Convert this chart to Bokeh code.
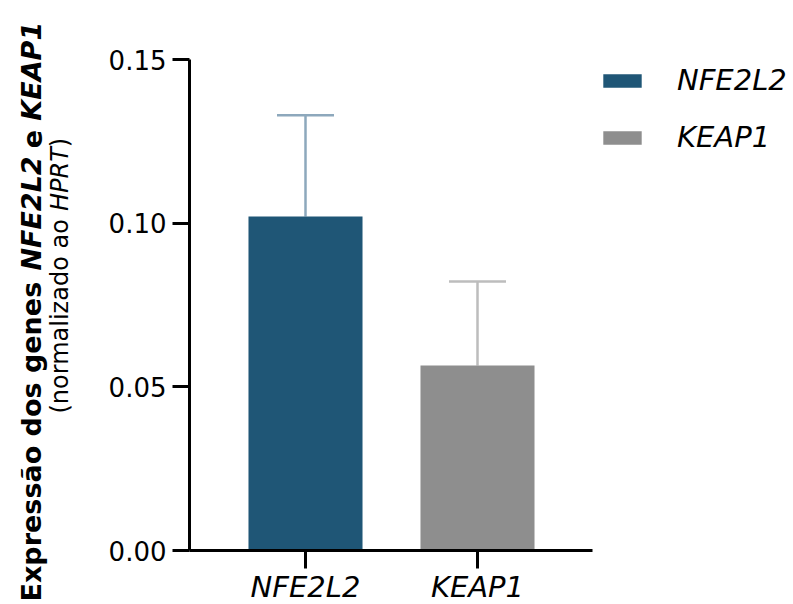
from math import pi
from bokeh.plotting import figure
from bokeh.models import (ColumnDataSource, Range1d, FixedTicker, NumeralTickFormatter,
                          Whisker, TeeHead, Legend, LegendItem, Label)
from bokeh.embed import file_html
from bokeh.resources import INLINE

# ---- data ----
genes = ["NFE2L2", "KEAP1"]
means = [0.102, 0.0565]
upper = [0.133, 0.0822]
bar_colors = ["#1f5676", "#8e8e8e"]
err_colors = ["#8da8bc", "#bdbdbd"]
y_ticks = [0.0, 0.05, 0.10, 0.15]

FONT = "DejaVu Sans"
W, H = 793, 604
# layout (canvas px): plot area edges and category spacing
FL, FR, FT, FB = 189, 592, 59, 550
C1, STEP = 305, 172
Y0, Y1 = 0.0, 0.15

xpos = [i + 1 for i in range(len(genes))]
# ranges chosen so that the frame covers the whole canvas
x_start = 1 - C1 / STEP
x_end = x_start + W / STEP
ppu = (FB - FT) / (Y1 - Y0)
y_start = Y0 - (H - FB) / ppu
y_end = Y1 + FT / ppu
x_at = lambda px: x_start + px / STEP

p = figure(width=W, height=H, x_range=Range1d(x_start, x_end), y_range=Range1d(y_start, y_end),
           output_backend="svg", toolbar_location=None,
           min_border=0, min_border_left=0, min_border_right=0,
           min_border_top=0, min_border_bottom=0)
p.title.visible = False
p.outline_line_color = None
p.xgrid.visible = False
p.ygrid.visible = False
p.background_fill_color = "white"
p.border_fill_color = "white"

renderers = []
for x, g, m, u, bc, ec in zip(xpos, genes, means, upper, bar_colors, err_colors):
    src = ColumnDataSource(dict(x=[x], mean=[m], upper=[u]))
    r = p.vbar(x="x", top="mean", bottom=0, width=0.663, source=src,
               fill_color=bc, line_color=None)
    renderers.append(r)
    wk = Whisker(base="x", lower="mean", upper="upper", source=src,
                 line_color=ec, line_width=2.5, lower_head=None,
                 upper_head=TeeHead(size=57, line_color=ec, line_width=2.5))
    p.add_layout(wk)

ya = p.yaxis[0]
ya.fixed_location = x_at(FL)
ya.bounds = (Y0, Y1)
ya.ticker = FixedTicker(ticks=y_ticks)
ya.formatter = NumeralTickFormatter(format="0.00")
ya.axis_line_width = 3
ya.axis_line_color = "black"
ya.major_tick_line_width = 3
ya.major_tick_line_color = "black"
ya.major_tick_out = 17
ya.major_tick_in = 0
ya.minor_tick_out = 0
ya.minor_tick_in = 0
ya.major_label_text_font = FONT
ya.major_label_text_font_size = "26px"
ya.major_label_text_color = "black"
ya.major_label_standoff = 6

xa = p.xaxis[0]
xa.fixed_location = Y0
xa.bounds = (x_at(FL), x_at(FR))
xa.ticker = FixedTicker(ticks=xpos)
xa.major_label_overrides = {x: g for x, g in zip(xpos, genes)}
xa.axis_line_width = 3
xa.axis_line_color = "black"
xa.major_tick_line_width = 3
xa.major_tick_line_color = "black"
xa.major_tick_out = 18
xa.major_tick_in = 0
xa.minor_tick_out = 0
xa.minor_tick_in = 0
xa.major_label_text_font = FONT
xa.major_label_text_font_style = "italic"
xa.major_label_text_font_size = "29px"
xa.major_label_text_color = "black"
xa.major_label_standoff = 1

legend = Legend(items=[LegendItem(label=g, renderers=[r]) for g, r in zip(genes, renderers)],
                location=(598, H - 154), orientation="vertical",
                glyph_width=48, glyph_height=17, label_standoff=31, spacing=23,
                padding=0, margin=0, border_line_color=None, background_fill_alpha=0,
                label_text_font=FONT, label_text_font_style="italic",
                label_text_font_size="29px", label_text_color="black")
p.add_layout(legend, "center")

# y axis title: two rotated lines with mixed styles (offsets in em)
line1 = [("Expressão dos genes", 0.0, "bold"), ("NFE2L2", 12.255, "bold italic"),
         ("e", 16.783, "bold"), ("KEAP1", 17.809, "bold italic")]
line2 = [("(normalizado ao", 0.0, "normal"), ("HPRT", 8.436, "italic"), (")", 11.097, "normal")]
for segs, cx, cy0, sz in [(line1, 31, 601, 27), (line2, 59, 413, 24)]:
    for txt, off, style in segs:
        p.add_layout(Label(x=cx, y=(H - cy0) + off * sz, x_units="screen", y_units="screen",
                           angle=pi / 2, text=txt, text_font=FONT, text_font_style=style,
                           text_font_size=f"{sz}px", text_color="black",
                           text_align="left", text_baseline="middle"))

open("out.html", "w").write(file_html(p, INLINE))
